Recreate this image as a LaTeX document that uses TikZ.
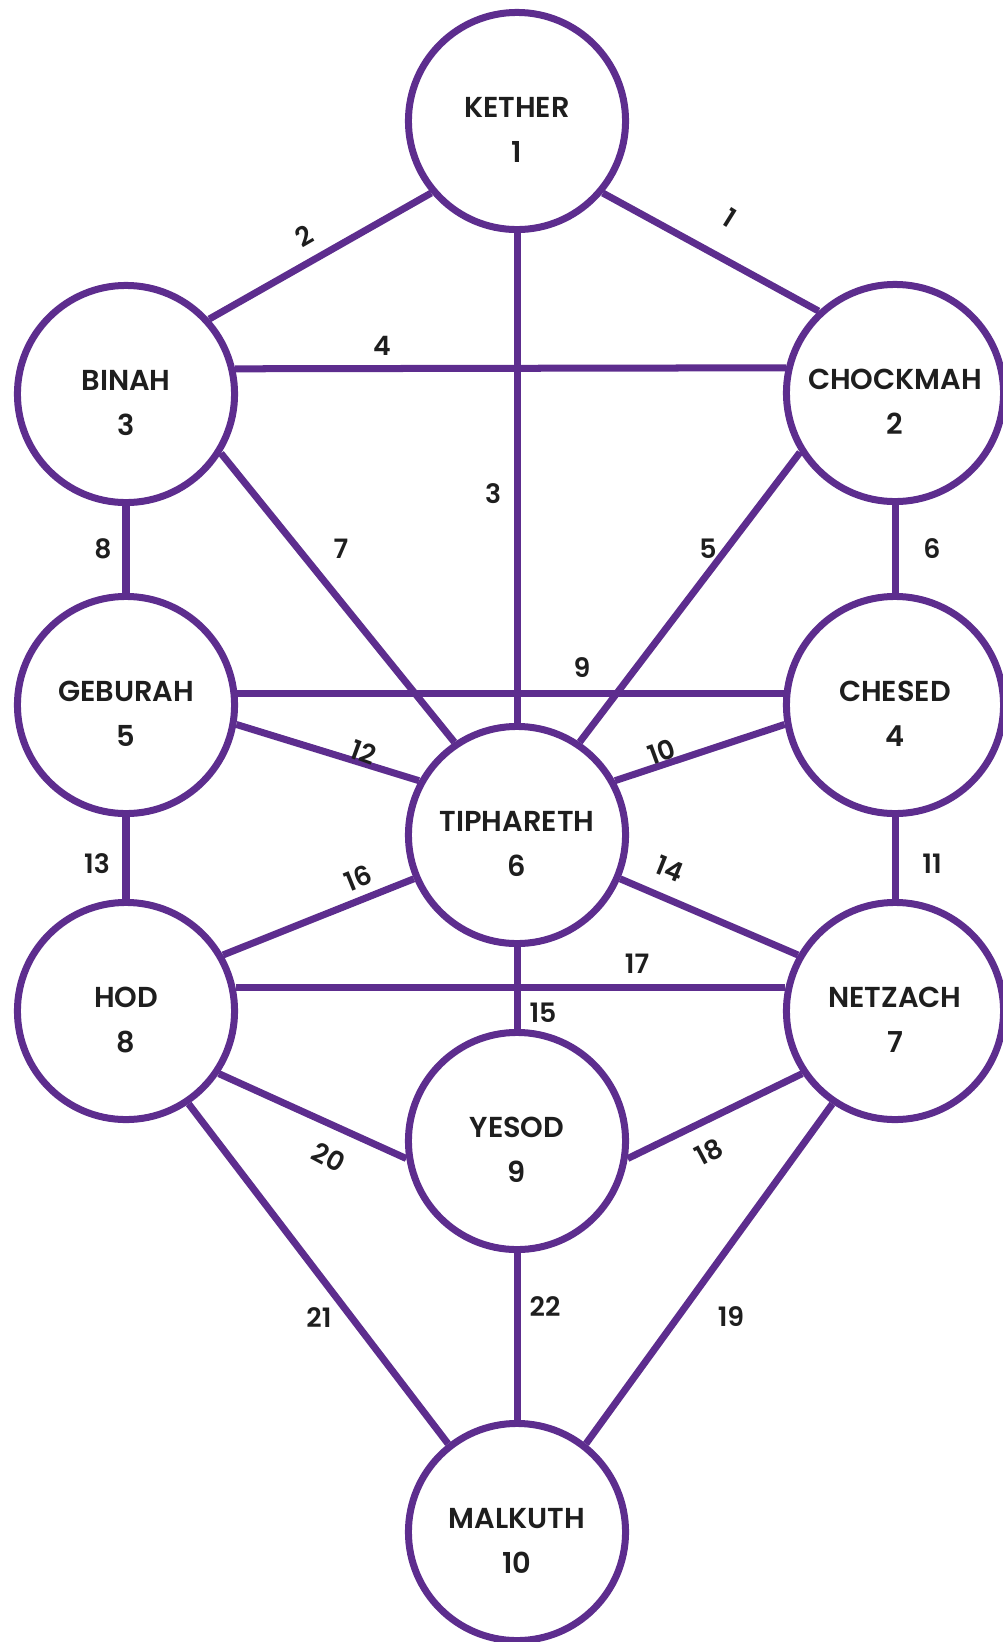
\documentclass[tikz,border=0pt]{standalone}
\usepackage{fontspec}
\setmainfont{Poppins}[BoldFont={Poppins SemiBold}]
\usetikzlibrary{positioning}
\definecolor{treepurple}{RGB}{93,45,142}
\definecolor{treetext}{RGB}{30,30,30}
\tikzset{
  sephira/.style={draw=treepurple,fill=white,circle,line width=0.07cm,minimum size=2.17cm,inner sep=0pt,
    align=center,font=\bfseries\fontsize{8.2}{12.8}\selectfont,text=treetext,text height=23.5pt,text depth=0pt},
  link/.style={draw=treepurple,line width=0.07cm},
  num/.style={font=\bfseries\fontsize{7.6}{9}\selectfont,text=treetext,inner sep=0pt}
}

\begin{document}
\begin{tikzpicture}[x=0.01cm,y=0.01cm]
  \useasboundingbox (0,0) rectangle (1002,-1642);
  % the ten sephiroth
  \node[sephira] (kether)    at (517,-121)  {KETHER\\1};
  \node[sephira] (binah)     at (126,-394)  {BINAH\\3};
  \node[sephira] (chockmah)  at (895,-393)  {CHOCKMAH\\2};
  \node[sephira] (geburah)   at (126,-705)  {GEBURAH\\5};
  \node[sephira] (chesed)    at (895,-705)  {CHESED\\4};
  \node[sephira] (tiphareth) at (517,-835)  {TIPHARETH\\6};
  \node[sephira] (hod)       at (126,-1011) {HOD\\8};
  \node[sephira] (netzach)   at (895,-1011) {NETZACH\\7};
  \node[sephira] (yesod)     at (517,-1141) {YESOD\\9};
  \node[sephira] (malkuth)   at (517,-1532) {MALKUTH\\10};

  % paths between them
  \draw[link] (kether.320) -- (chockmah.133);
  \draw[link] (kether.220) -- (binah.42);
  \draw[link] (kether.south) -- (tiphareth.north);
  \draw[link] (binah.13) -- (chockmah.167);
  \draw[link] (chockmah.212) -- (tiphareth.56);
  \draw[link] (chockmah.south) -- (chesed.north);
  \draw[link] (binah.328) -- (tiphareth.124);
  \draw[link] (binah.south) -- (geburah.north);
  \draw[link] (geburah.6) -- (chesed.174);
  \draw[link] (chesed.190) -- (tiphareth.29);
  \draw[link] (chesed.south) -- (netzach.north);
  \draw[link] (geburah.350) -- (tiphareth.151);
  \draw[link] (geburah.south) -- (hod.north);
  \draw[link] (tiphareth.337) -- (netzach.150);
  \draw[link] (tiphareth.south) -- (yesod.north);
  \draw[link] (tiphareth.203) -- (hod.30);
  \draw[link] (hod.12) -- (netzach.168);
  \draw[link] (netzach.214) -- (yesod.351);
  \draw[link] (netzach.236) -- (malkuth.52);
  \draw[link] (hod.326) -- (yesod.189);
  \draw[link] (hod.304) -- (malkuth.128);
  \draw[link] (yesod.south) -- (malkuth.north);

  % path numbers
  \node[num,rotate=-32] (p1)  at (730,-218)  {1};
  \node[num,rotate=30]  (p2)  at (304,-236)  {2};
  \node[num]            (p3)  at (493,-494)  {3};
  \node[num]            (p4)  at (382,-346)  {4};
  \node[num]            (p5)  at (708,-549)  {5};
  \node[num]            (p6)  at (932,-549)  {6};
  \node[num]            (p7)  at (341,-549)  {7};
  \node[num]            (p8)  at (103,-549)  {8};
  \node[num]            (p9)  at (582,-668)  {9};
  \node[num,rotate=20]  (p10) at (662,-752)  {10};
  \node[num]            (p11) at (932,-864)  {11};
  \node[num,rotate=-20] (p12) at (364,-752)  {12};
  \node[num]            (p13) at (97,-864)   {13};
  \node[num,rotate=-22] (p14) at (670,-869)  {14};
  \node[num]            (p15) at (543,-1013) {15};
  \node[num,rotate=22]  (p16) at (358,-878)  {16};
  \node[num]            (p17) at (637,-964)  {17};
  \node[num,rotate=28]  (p18) at (709,-1152) {18};
  \node[num]            (p19) at (731,-1317) {19};
  \node[num,rotate=-28] (p20) at (329,-1157) {20};
  \node[num]            (p21) at (319,-1318) {21};
  \node[num]            (p22) at (545,-1307) {22};
\end{tikzpicture}
\end{document}
